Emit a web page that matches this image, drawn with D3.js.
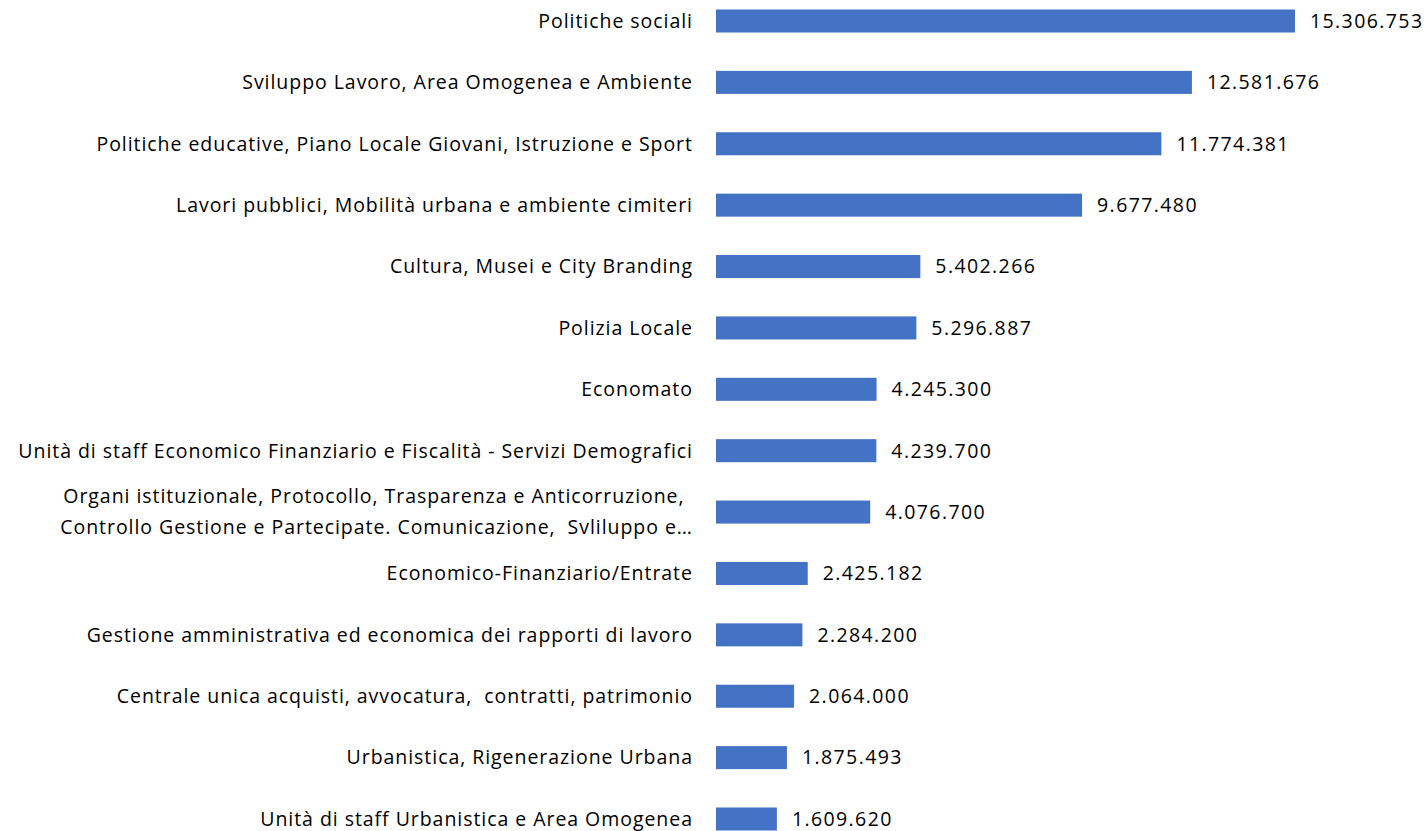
<!DOCTYPE html>
<html><head><meta charset="utf-8">
<script src="https://cdn.jsdelivr.net/npm/d3@7"></script>
<style>
html,body{margin:0;padding:0;background:#fff;}
svg{display:block;}
text{font-family:"Open Sans","Lato",sans-serif;fill:#000;white-space:pre;}
</style></head>
<body><svg id="c" width="1427" height="831"></svg>
<script>
const categories = [
  ["Politiche sociali"],
  ["Sviluppo Lavoro, Area Omogenea e Ambiente"],
  ["Politiche educative, Piano Locale Giovani, Istruzione e Sport"],
  ["Lavori pubblici, Mobilità urbana e ambiente cimiteri"],
  ["Cultura, Musei e City Branding"],
  ["Polizia Locale"],
  ["Economato"],
  ["Unità di staff Economico Finanziario e Fiscalità - Servizi Demografici"],
  ["Organi istituzionale, Protocollo, Trasparenza e Anticorruzione,", "Controllo Gestione e Partecipate. Comunicazione,  Svliluppo e…"],
  ["Economico-Finanziario/Entrate"],
  ["Gestione amministrativa ed economica dei rapporti di lavoro"],
  ["Centrale unica acquisti, avvocatura,  contratti, patrimonio"],
  ["Urbanistica, Rigenerazione Urbana"],
  ["Unità di staff Urbanistica e Area Omogenea"]
];
const values = [15306753, 12581676, 11774381, 9677480, 5402266, 5296887, 4245300, 4239700, 4076700, 2425182, 2284200, 2064000, 1875493, 1609620];

const svg = d3.select("#c");
const fontSize = 19.5;
const labelSpacing = 0.95;
const x0 = 716, x1 = 1295;
const x = d3.scaleLinear().domain([0, values[0]]).range([x0, x1]);
const idx = d3.range(values.length);
const step = (819 - 21) / 13;
const y = d3.scaleBand().domain(idx).range([21 - step/2, 819 + step/2]).paddingInner(0.625).paddingOuter(0.3125);
const loc = d3.formatLocale({decimal: ",", thousands: ".", grouping: [3], currency: ["€", ""]});
const fmt = loc.format(",d");

svg.selectAll("rect.bar").data(idx).enter().append("rect")
  .attr("class","bar")
  .attr("x", x(0))
  .attr("y", i => y(i))
  .attr("width", i => x(values[i]) - x(0))
  .attr("height", y.bandwidth())
  .attr("fill", "#4472C4");

svg.selectAll("text.val").data(idx).enter().append("text")
  .attr("class","val")
  .attr("x", i => x(values[i]) + 15)
  .attr("y", i => y(i) + y.bandwidth()/2)
  .attr("dy", "0.35em")
  .attr("font-size", fontSize)
  .attr("letter-spacing", 1.4)
  .text(i => fmt(values[i]));

const labelX = 692 + labelSpacing;
const lg = svg.selectAll("g.lab").data(idx).enter().append("g").attr("class","lab");
lg.each(function(i){
  const g = d3.select(this);
  const lines = categories[i];
  const cy = y(i) + y.bandwidth()/2;
  const lh = 31;
  if (lines.length === 1) {
    g.append("text").attr("x", labelX).attr("y", cy).attr("dy","0.35em")
      .attr("letter-spacing", labelSpacing)
      .attr("text-anchor","end").attr("font-size", fontSize).text(lines[0]);
  } else {
    const ts = lines.map((l, k) => g.append("text")
      .attr("y", cy + (k - (lines.length-1)/2) * lh).attr("dy","0.35em")
      .attr("letter-spacing", labelSpacing)
      .attr("font-size", fontSize).attr("text-anchor","start").text(l));
    const ws = ts.map(t => t.node().getComputedTextLength());
    const maxW = Math.max(...ws);
    const left = labelX - maxW;
    ts.forEach((t, k) => t.attr("x", left + (ws[k] < maxW ? 3 : 0)));
  }
});
</script></body></html>
